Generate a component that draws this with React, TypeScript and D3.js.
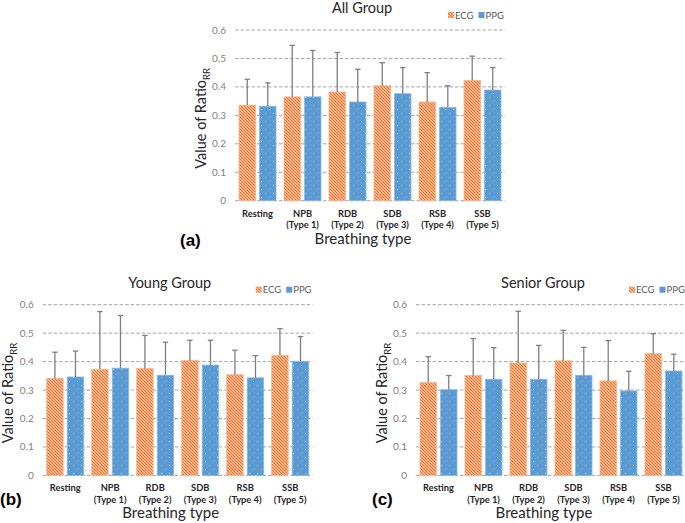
import React from "react";
import * as d3 from "d3";

const catLine1 = ["Resting", "NPB", "RDB", "SDB", "RSB", "SSB"];
const catLine2 = ["", "(Type 1)", "(Type 2)", "(Type 3)", "(Type 4)", "(Type 5)"];
const seriesNames = ["ECG", "PPG"];
const yTicks = [0, 0.1, 0.2, 0.3, 0.4, 0.5, 0.6];

const allEcg = [0.336, 0.365, 0.382, 0.404, 0.347, 0.423];
const allEcgSd = [0.091, 0.181, 0.139, 0.081, 0.103, 0.085];
const allPpg = [0.332, 0.365, 0.347, 0.376, 0.328, 0.389];
const allPpgSd = [0.082, 0.163, 0.115, 0.092, 0.076, 0.079];

const youngEcg = [0.341, 0.373, 0.376, 0.404, 0.354, 0.422];
const youngEcgSd = [0.092, 0.203, 0.116, 0.071, 0.086, 0.094];
const youngPpg = [0.346, 0.377, 0.352, 0.388, 0.343, 0.401];
const youngPpgSd = [0.091, 0.185, 0.116, 0.087, 0.078, 0.087];

const seniorEcg = [0.327, 0.351, 0.395, 0.403, 0.332, 0.428];
const seniorEcgSd = [0.090, 0.130, 0.182, 0.107, 0.142, 0.070];
const seniorPpg = [0.301, 0.338, 0.338, 0.352, 0.297, 0.367];
const seniorPpgSd = [0.050, 0.111, 0.119, 0.098, 0.069, 0.059];

const FONT = "Lato, 'Open Sans', sans-serif";

type PanelProps = {
  title: string;
  tag: string;
  ecg: number[];
  ecgSd: number[];
  ppg: number[];
  ppgSd: number[];
  x0: number;
  yTop: number;
  tagX: number;
  tagY: number;
};

function Panel({ title, tag, ecg, ecgSd, ppg, ppgSd, x0, yTop, tagX, tagY }: PanelProps) {
  const width = 270;
  const height = 170.7;
  const yBase = yTop + height;
  const x = d3.scaleBand<string>().domain(catLine1).range([x0, x0 + width]).padding(0);
  const sub = d3.scaleBand<string>().domain(seriesNames).range([4, 41]).paddingInner(0.2);
  const y = d3.scaleLinear().domain([0, 0.6]).range([yBase, yTop]);
  const cx = x0 + width / 2;
  const series = [
    { name: "ECG", vals: ecg, sd: ecgSd, fill: "url(#ecgPat)", stroke: "#F6B58C" },
    { name: "PPG", vals: ppg, sd: ppgSd, fill: "url(#ppgPat)", stroke: "#8DB8E2" },
  ];
  const bw = sub.bandwidth();
  return (
    <g>
      {yTicks.map((t) => (
        <g key={t}>
          <line x1={x0} x2={x0 + width} y1={y(t)} y2={y(t)} stroke="#a6a6a6" strokeWidth={1} strokeDasharray="3.5,2" />
          <text x={x0 - 9} y={y(t) + 3.5} textAnchor="end" fontSize={10} fill="#7f7f7f" fontFamily={FONT}>
            {t === 0 ? "0" : t.toFixed(1)}
          </text>
        </g>
      ))}
      {series.map((s) =>
        catLine1.map((c, i) => {
          const bx = (x(c) as number) + (sub(s.name) as number);
          return (
            <rect key={s.name + c} x={bx} y={y(s.vals[i])} width={bw} height={yBase - y(s.vals[i])} fill={s.fill} stroke={s.stroke} strokeWidth={0.8} />
          );
        })
      )}
      {series.map((s) =>
        catLine1.map((c, i) => {
          const bxc = (x(c) as number) + (sub(s.name) as number) + bw / 2;
          const top = y(s.vals[i] + s.sd[i]);
          return (
            <g key={"e" + s.name + c}>
              <line x1={bxc} x2={bxc} y1={y(s.vals[i])} y2={top} stroke="#7f7f7f" strokeWidth={1.3} />
              <line x1={bxc - 2.7} x2={bxc + 2.7} y1={top} y2={top} stroke="#7f7f7f" strokeWidth={1.3} />
            </g>
          );
        })
      )}
      {catLine1.map((c, i) => {
        const mx = (x(c) as number) + x.bandwidth() / 2;
        return (
          <text key={"l" + c} textAnchor="middle" fontSize={9.3} fontWeight="bold" fill="#262626" fontFamily={FONT}>
            <tspan x={mx} y={yBase + 16}>{c}</tspan>
            {catLine2[i] ? <tspan x={mx} y={yBase + 27.5}>{catLine2[i]}</tspan> : null}
          </text>
        );
      })}
      <text x={cx - 8} y={yTop - 17} textAnchor="middle" fontSize={14.5} fill="#262626" fontFamily={FONT}>
        {title}
      </text>
      <text x={cx - 7} y={yBase + 43} textAnchor="middle" fontSize={15} fill="#262626" fontFamily={FONT}>
        Breathing type
      </text>
      <text transform={`translate(${x0 - 29.5},${yTop + height / 2 + 3}) rotate(-90)`} textAnchor="middle" fontSize={14.5} fill="#262626" fontFamily={FONT}>
        Value of Ratio
        <tspan fontSize={9.5} dy={4}>RR</tspan>
      </text>
      <rect x={x0 + 213} y={yTop - 18} width={6} height={6} fill="url(#ecgPat)" />
      <text x={x0 + 220} y={yTop - 11.5} fontSize={9.5} fill="#595959" fontFamily={FONT}>ECG</text>
      <rect x={x0 + 243.5} y={yTop - 18} width={6} height={6} fill="#5B9BD5" />
      <text x={x0 + 250.5} y={yTop - 11.5} fontSize={9.5} fill="#595959" fontFamily={FONT}>PPG</text>
      <text x={tagX} y={tagY} fontSize={17} fontWeight="bold" fill="#000" fontFamily="'Liberation Sans', Arial, sans-serif">
        {tag}
      </text>
    </g>
  );
}

export default function App() {
  return (
    <svg width={685} height={523} style={{ position: "absolute", left: 0, top: 0, background: "#fff" }}>
      <defs>
        <pattern id="ecgPat" patternUnits="userSpaceOnUse" width={3} height={3}>
          <rect width={3} height={3} fill="#F9C9A6" />
          <path d="M-1,-1 L4,4 M-1,2 L1,4 M2,-1 L4,1" stroke="#EB7A3A" strokeWidth={1.2} />
        </pattern>
        <pattern id="ppgPat" patternUnits="userSpaceOnUse" width={8} height={8}>
          <rect width={8} height={8} fill="#5B9BD5" />
          <rect x={1} y={1} width={1} height={1} fill="#d6e6f5" />
          <rect x={5} y={5} width={1} height={1} fill="#d6e6f5" />
        </pattern>
      </defs>
      <rect width={685} height={523} fill="#fff" />
      <Panel title="All Group" tag="(a)" ecg={allEcg} ecgSd={allEcgSd} ppg={allPpg} ppgSd={allPpgSd} x0={235} yTop={30} tagX={180} tagY={246} />
      <Panel title="Young Group" tag="(b)" ecg={youngEcg} ecgSd={youngEcgSd} ppg={youngPpg} ppgSd={youngPpgSd} x0={42.7} yTop={304.7} tagX={0} tagY={505} />
      <Panel title="Senior Group" tag="(c)" ecg={seniorEcg} ecgSd={seniorEcgSd} ppg={seniorPpg} ppgSd={seniorPpgSd} x0={416} yTop={304.7} tagX={372} tagY={505} />
    </svg>
  );
}
